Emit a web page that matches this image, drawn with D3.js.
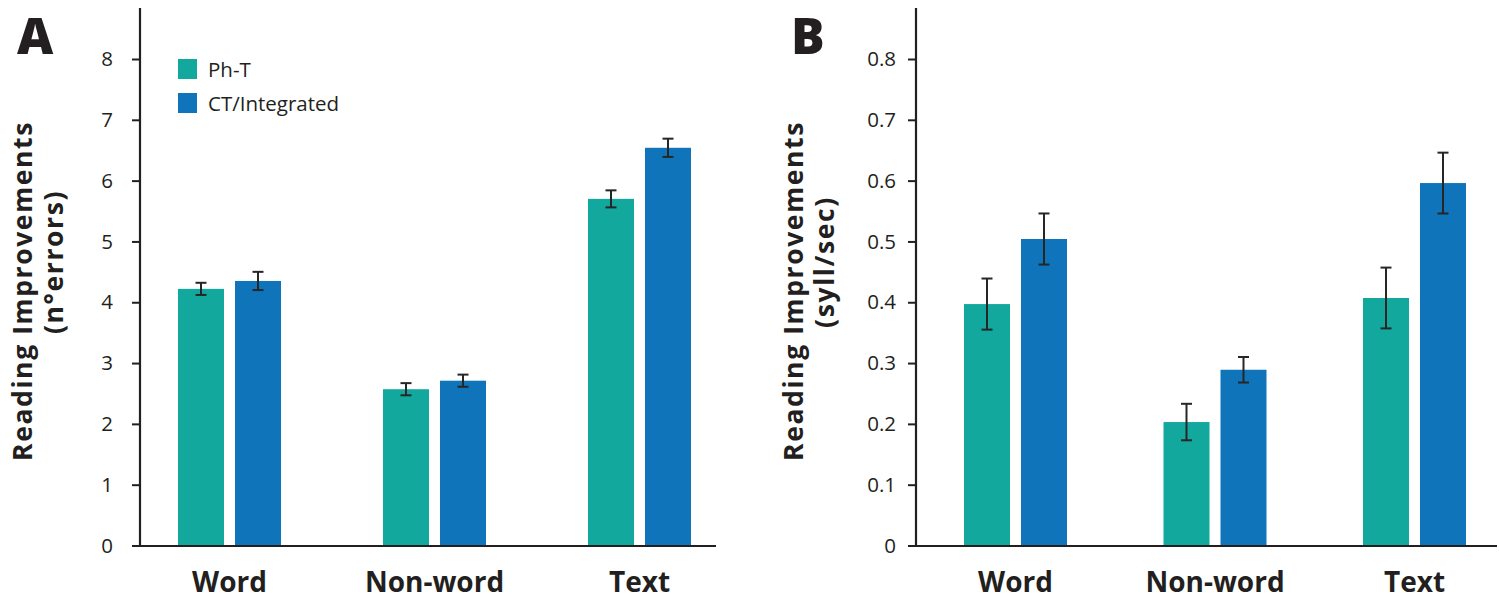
<!DOCTYPE html>
<html>
<head>
<meta charset="utf-8">
<script src="https://cdn.jsdelivr.net/npm/d3@7"></script>
<style>
  html, body { margin: 0; padding: 0; background: #fff; }
  svg { display: block; font-family: "Open Sans", "Noto Sans", sans-serif; }
</style>
</head>
<body>
<svg id="chart" width="1499" height="602"></svg>
<script>
// ---------- DATA ----------
const categories = ["Word", "Non-word", "Text"];
const seriesNames = ["Ph-T", "CT/Integrated"];
const seriesColors = ["#12a89d", "#1074bb"];

// Panel A : Reading improvements (n° errors)
const errorsPhT   = [4.22, 2.57, 5.70];
const errorsPhTSE = [0.10, 0.10, 0.14];
const errorsCT    = [4.35, 2.71, 6.54];
const errorsCTSE  = [0.15, 0.10, 0.15];

// Panel B : Reading improvements (syll/sec)
const speedPhT   = [0.397, 0.203, 0.407];
const speedPhTSE = [0.042, 0.030, 0.050];
const speedCT    = [0.504, 0.289, 0.596];
const speedCTSE  = [0.042, 0.021, 0.050];

const ticksA = [0, 1, 2, 3, 4, 5, 6, 7, 8];
const ticksB = [0, 0.1, 0.2, 0.3, 0.4, 0.5, 0.6, 0.7, 0.8];
const tickLabelsB = ["0", "0.1", "0.2", "0.3", "0.4", "0.5", "0.6", "0.7", "0.8"];

// ---------- DRAW ----------
const svg = d3.select("#chart");
const axisColor = "#231f20";
const errColor = "#262626";

function panel(cfg) {
  const g = svg.append("g");
  const y = d3.scaleLinear().domain([0, cfg.ymax]).range([545.5, 59]);
  const x = d3.scalePoint().domain(categories).range(cfg.centers);
  const inner = d3.scaleBand().domain(seriesNames).range([-51.5, 51.5])
                  .paddingInner(0.193).paddingOuter(0);

  const rows = [];
  categories.forEach((c, i) => {
    rows.push({cat: c, s: 0, v: cfg.a[i], e: cfg.ae[i]});
    rows.push({cat: c, s: 1, v: cfg.b[i], e: cfg.be[i]});
  });

  // bars
  g.selectAll("rect.bar").data(rows).enter().append("rect")
    .attr("class", "bar")
    .attr("x", d => x(d.cat) + inner(seriesNames[d.s]))
    .attr("width", inner.bandwidth())
    .attr("y", d => y(d.v))
    .attr("height", d => y(0) - y(d.v))
    .attr("fill", d => seriesColors[d.s]);

  // error bars
  const eb = g.selectAll("g.err").data(rows).enter().append("g").attr("class", "err");
  const cx = d => x(d.cat) + inner(seriesNames[d.s]) + inner.bandwidth() / 2;
  eb.append("line")
    .attr("x1", cx).attr("x2", cx)
    .attr("y1", d => y(d.v - d.e)).attr("y2", d => y(d.v + d.e))
    .attr("stroke", errColor).attr("stroke-width", 2);
  [1, -1].forEach(sign => {
    eb.append("line")
      .attr("x1", d => cx(d) - 5.5).attr("x2", d => cx(d) + 5.5)
      .attr("y1", d => y(d.v + sign * d.e)).attr("y2", d => y(d.v + sign * d.e))
      .attr("stroke", errColor).attr("stroke-width", 2);
  });

  // y axis
  const yAxis = d3.axisLeft(y).tickValues(cfg.ticks).tickSize(8).tickSizeOuter(0)
                  .tickPadding(cfg.tickPad)
                  .tickFormat((d, i) => cfg.tickLabels[i]);
  const ya = g.append("g").attr("transform", `translate(${cfg.axisX},0)`).call(yAxis);
  ya.select(".domain").remove();
  ya.selectAll(".tick line").attr("stroke", axisColor).attr("stroke-width", 2);
  ya.selectAll(".tick text").attr("fill", "#231f20").style("font-size", "20.5px")
    .style("font-family", '"Open Sans", sans-serif');
  g.append("line").attr("x1", cfg.axisX).attr("x2", cfg.axisX)
    .attr("y1", 8).attr("y2", y(0) + 1)
    .attr("stroke", axisColor).attr("stroke-width", 2.2);

  // x axis line
  g.append("line").attr("x1", cfg.xStart).attr("x2", cfg.xEnd)
    .attr("y1", y(0) + 0.5).attr("y2", y(0) + 0.5)
    .attr("stroke", axisColor).attr("stroke-width", 2.2);

  // category labels
  g.selectAll("text.cat").data(categories).enter().append("text")
    .attr("class", "cat")
    .attr("x", d => x(d)).attr("y", 592)
    .attr("text-anchor", "middle")
    .style("font-size", "28px").style("font-weight", 700)
    .attr("fill", "#231f20")
    .text(d => d);

  // y title
  g.append("text")
    .attr("transform", `translate(${cfg.titleX},${cfg.titleY}) rotate(-90)`)
    .attr("text-anchor", "middle")
    .style("font-size", "26.5px").style("font-weight", 700)
    .style("letter-spacing", "1.6px")
    .attr("fill", "#231f20")
    .text("Reading Improvements");
  g.append("text")
    .attr("transform", `translate(${cfg.titleX + 31},${cfg.title2Y}) rotate(-90)`)
    .attr("text-anchor", "middle")
    .style("font-size", "26.5px").style("font-weight", 700)
    .style("letter-spacing", "1.6px")
    .attr("fill", "#231f20")
    .text(cfg.unit);

  // panel letter
  g.append("text").attr("x", cfg.letterX).attr("y", 54)
    .style("font-size", "50px").style("font-weight", 800)
    .attr("fill", "#231f20")
    .text(cfg.letter);

  return g;
}

panel({
  ymax: 8, a: errorsPhT, ae: errorsPhTSE, b: errorsCT, be: errorsCTSE,
  ticks: ticksA, tickLabels: ticksA.map(String), tickPad: 19,
  centers: [229.5, 639.5], axisX: 140, xStart: 132, xEnd: 716,
  titleX: 32, titleY: 291, title2Y: 262, unit: "(n°errors)",
  letter: "A", letterX: 17
});

panel({
  ymax: 0.8, a: speedPhT, ae: speedPhTSE, b: speedCT, be: speedCTSE,
  ticks: ticksB, tickLabels: tickLabelsB, tickPad: 12,
  centers: [1015.5, 1414.5], axisX: 916, xStart: 908, xEnd: 1497,
  titleX: 803, titleY: 291, title2Y: 262, unit: "(syll/sec)",
  letter: "B", letterX: 791
});

// legend
const leg = svg.append("g");
seriesNames.forEach((s, i) => {
  leg.append("rect").attr("x", 178).attr("y", 59 + i * 34)
    .attr("width", 19).attr("height", 20).attr("fill", seriesColors[i]);
  leg.append("text").attr("x", 208).attr("y", 77 + i * 33.5)
    .style("font-size", "20.5px").attr("fill", "#231f20").text(s);
});
</script>
</body>
</html>
